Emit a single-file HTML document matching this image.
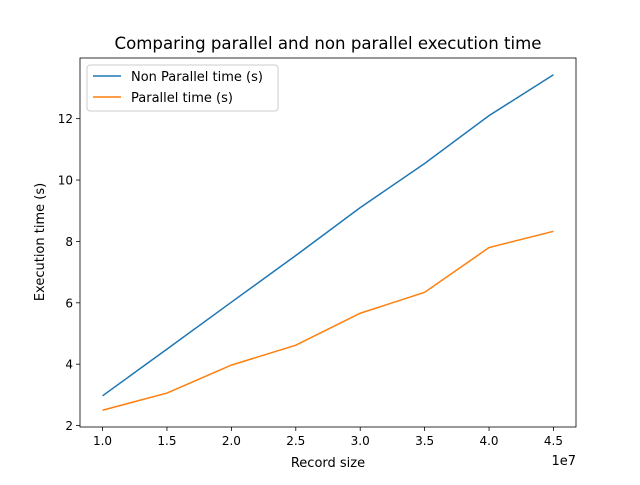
<!DOCTYPE html>
<html><head><meta charset="utf-8"><style>
body{margin:0;background:#fff;}
svg{font-family:"DejaVu Sans","Liberation Sans",sans-serif;}
</style></head><body>
<svg id="chart" width="640" height="480" xmlns="http://www.w3.org/2000/svg">
<rect width="640" height="480" fill="#fff"/>
<text x="328" y="49" font-size="16.6" text-anchor="middle">Comparing parallel and non parallel execution time</text>
<g id="plot"></g>
<rect x="80" y="58" width="496" height="369" fill="none" stroke="#000" stroke-width="0.8"/>
<text x="328" y="467" font-size="13" text-anchor="middle">Record size</text>
<text x="576" y="465" font-size="13" text-anchor="end">1e7</text>
<text transform="translate(44,242) rotate(-90)" font-size="13" text-anchor="middle">Execution time (s)</text>
<g>
<rect x="87" y="65" width="191" height="46" rx="3" fill="#fff" fill-opacity="0.8" stroke="#ccc"/>
<line x1="93" y1="76" x2="121" y2="76" stroke="#1f77b4" stroke-width="1.5"/>
<text x="131" y="81" font-size="13">Non Parallel time (s)</text>
<line x1="93" y1="97" x2="121" y2="97" stroke="#ff7f0e" stroke-width="1.5"/>
<text x="131" y="102" font-size="13">Parallel time (s)</text>
</g>
</svg>
<script>
const recordSizes=[1.0,1.5,2.0,2.5,3.0,3.5,4.0,4.5];
const nonParallel=[2.97,4.49,6.02,7.54,9.1,10.54,12.1,13.43];
const parallel=[2.5,3.06,3.97,4.62,5.66,6.34,7.8,8.33];
const xTicks=[1.0,1.5,2.0,2.5,3.0,3.5,4.0,4.5];
const yTicks=[2,4,6,8,10,12];
const NS="http://www.w3.org/2000/svg";
const all=nonParallel.concat(parallel);
const xmin=Math.min(...recordSizes),xmax=Math.max(...recordSizes),xm=(xmax-xmin)*0.05;
const ymin=Math.min(...all),ymax=Math.max(...all),ym=(ymax-ymin)*0.05;
const L=80,R=576,T=58,B=427;
const sx=v=>L+(v-(xmin-xm))/((xmax+xm)-(xmin-xm))*(R-L);
const sy=v=>B-(v-(ymin-ym))/((ymax+ym)-(ymin-ym))*(B-T);
const g=document.getElementById('plot');
function mk(t,a){const e=document.createElementNS(NS,t);for(const k in a)e.setAttribute(k,a[k]);g.appendChild(e);return e;}
xTicks.forEach(v=>{
 const l=mk('line',{x1:sx(v),x2:sx(v),y1:B,y2:B+4,stroke:'#000','stroke-width':0.8});
 
 
 const t=mk('text',{x:sx(v),y:B+18,'font-size':12,'text-anchor':'middle'});
 t.textContent=v.toFixed(1);
 
 
});
yTicks.forEach(v=>{
 const l=mk('line',{x1:L-4,x2:L,y1:sy(v),y2:sy(v),stroke:'#000','stroke-width':0.8});
 
 
 const t=mk('text',{x:L-7,y:sy(v)+4.5,'font-size':12,'text-anchor':'end'});
 t.textContent=v;
 
 
});
function line(vals,color,name){
 const p=mk('polyline',{points:vals.map((v,i)=>sx(recordSizes[i])+','+sy(v)).join(' '),fill:'none',stroke:color,'stroke-width':1.5});
 
 
}
line(nonParallel,'#1f77b4','non-parallel-line');
line(parallel,'#ff7f0e','parallel-line');
</script>
</body></html>
